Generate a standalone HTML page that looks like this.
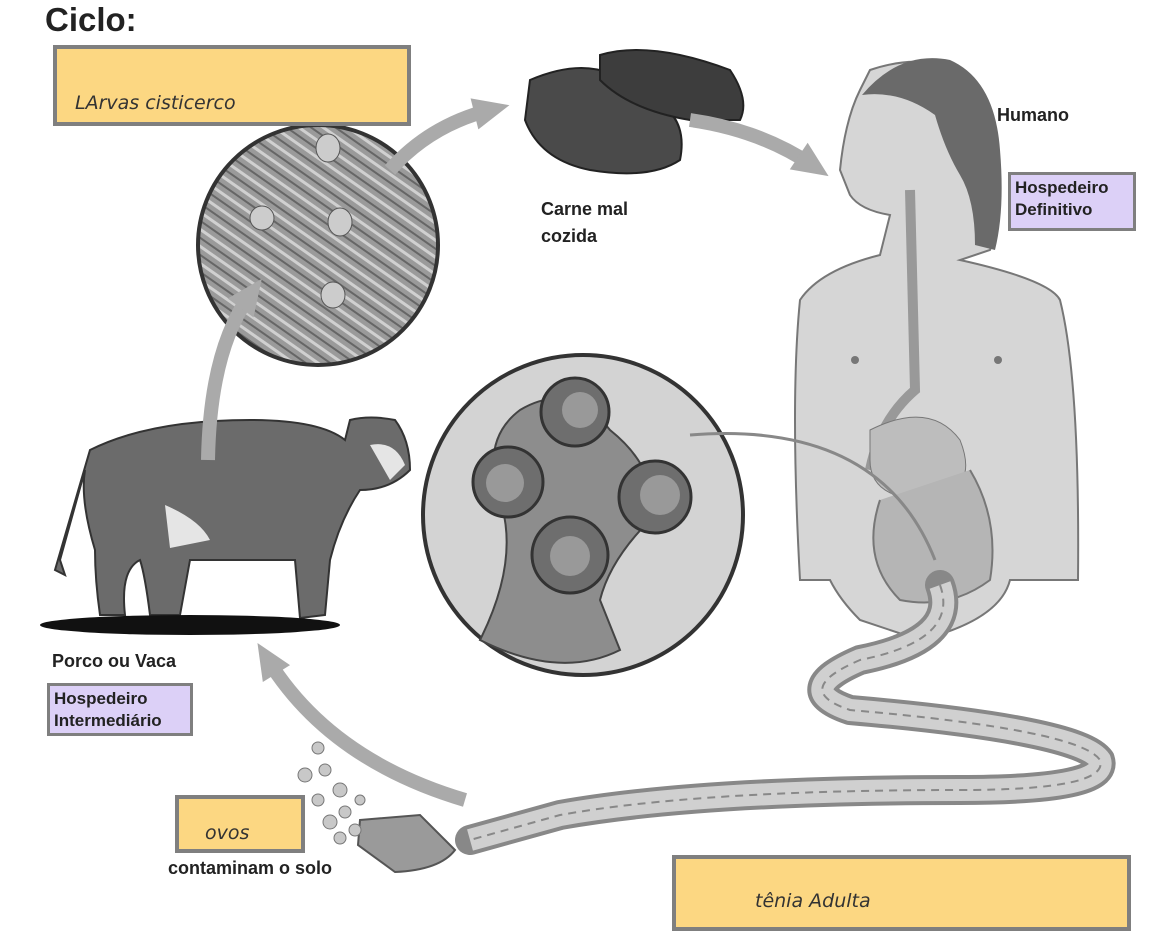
<!DOCTYPE html>
<html><head><meta charset="utf-8"><style>
html,body{margin:0;padding:0;background:#fff;}
body{width:1170px;height:942px;position:relative;overflow:hidden;font-family:"Liberation Sans",sans-serif;}
.t{position:absolute;font-weight:bold;color:#222;font-size:18px;line-height:27px;}
.yb{position:absolute;background:#fcd782;border:4px solid #7f7f7f;box-sizing:border-box;}
.pb{position:absolute;background:#dcd0f7;border:3px solid #7f7f7f;box-sizing:border-box;font-weight:bold;font-size:17px;line-height:22px;padding:2px 4px;color:#222;}
.hw{position:absolute;font-family:"DejaVu Sans",sans-serif;font-size:19px;color:#333;font-style:italic;}
</style></head><body>
<svg width="1170" height="942" style="position:absolute;left:0;top:0">
<defs>
<marker id="ah" markerUnits="userSpaceOnUse" markerWidth="40" markerHeight="40" refX="20" refY="20" orient="auto"><path d="M4,4L40,20L4,36z" fill="#aaa"/></marker>
<pattern id="fib" width="14" height="14" patternUnits="userSpaceOnUse" patternTransform="rotate(35)"><rect width="14" height="14" fill="#9a9a9a"/><line x1="0" y1="3" x2="14" y2="3" stroke="#d0d0d0" stroke-width="3"/><line x1="0" y1="10" x2="14" y2="10" stroke="#666" stroke-width="2"/></pattern>
</defs>
<!-- human -->
<path d="M870,70 Q960,40 990,120 Q1010,200 990,250 L960,260 Q1050,280 1060,300 Q1080,380 1078,580 L1010,580 Q1000,620 920,640 L860,620 Q840,600 830,580 L800,580 Q790,400 800,300 Q820,270 880,255 L890,215 Q860,210 850,195 L840,170 Q845,120 860,90 Z" fill="#d6d6d6" stroke="#777" stroke-width="2"/>
<path d="M862,95 Q900,50 950,60 Q995,80 1000,150 Q1005,210 995,250 L975,245 Q975,200 960,175 Q945,150 935,115 Q900,90 862,95Z" fill="#6a6a6a"/>
<path d="M910,190 L915,390 Q880,420 870,470" stroke="#999" stroke-width="10" fill="none"/>
<path d="M870,430 Q930,400 960,440 Q980,490 930,500 Q870,500 870,460Z" fill="#bdbdbd" stroke="#777"/>
<path d="M880,500 Q860,560 900,600 Q950,610 990,580 Q1000,520 970,470" fill="#b5b5b5" stroke="#777" stroke-width="2"/>
<circle cx="855" cy="360" r="4" fill="#777"/><circle cx="998" cy="360" r="4" fill="#777"/>
<!-- worm -->
<path d="M940,585 Q960,640 860,660 Q790,690 850,710 Q1080,730 1100,760 Q1110,790 960,790 Q700,790 560,815 L470,840" stroke="#888" stroke-width="30" fill="none" stroke-linecap="round"/>
<path d="M940,585 Q960,640 860,660 Q790,690 850,710 Q1080,730 1100,760 Q1110,790 960,790 Q700,790 560,815 L470,840" stroke="#d0d0d0" stroke-width="22" fill="none"/>
<path d="M940,585 Q960,640 860,660 Q790,690 850,710 Q1080,730 1100,760 Q1110,790 960,790 Q700,790 560,815 L470,840" stroke="#888" stroke-width="2" fill="none" stroke-dasharray="8 6"/>
<path d="M360,820 L420,815 L455,850 Q440,870 395,872 L358,845Z" fill="#9a9a9a" stroke="#555" stroke-width="2"/>
<!-- eggs -->
<g fill="#c8c8c8" stroke="#777">
<circle cx="318" cy="748" r="6"/><circle cx="305" cy="775" r="7"/><circle cx="325" cy="770" r="6"/><circle cx="340" cy="790" r="7"/><circle cx="318" cy="800" r="6"/><circle cx="345" cy="812" r="6"/><circle cx="330" cy="822" r="7"/><circle cx="355" cy="830" r="6"/><circle cx="340" cy="838" r="6"/><circle cx="360" cy="800" r="5"/></g>
<!-- circle 1 -->
<circle cx="318" cy="245" r="120" fill="url(#fib)" stroke="#333" stroke-width="4"/>
<g fill="#ccc" stroke="#555"><ellipse cx="328" cy="148" rx="12" ry="14"/><ellipse cx="262" cy="218" rx="12" ry="12"/><ellipse cx="340" cy="222" rx="12" ry="14"/><ellipse cx="333" cy="295" rx="12" ry="13"/></g>
<!-- circle 2 -->
<circle cx="583" cy="515" r="160" fill="#d3d3d3" stroke="#333" stroke-width="4"/>
<path d="M480,640 Q520,560 500,500 Q480,440 520,410 Q570,380 610,430 Q660,470 650,520 Q610,560 600,600 L620,650 Q560,680 480,640Z" fill="#8d8d8d" stroke="#444" stroke-width="2"/>
<g fill="#6e6e6e" stroke="#333" stroke-width="3"><circle cx="575" cy="412" r="34"/><circle cx="508" cy="482" r="35"/><circle cx="655" cy="497" r="36"/><circle cx="570" cy="555" r="38"/></g>
<g fill="#999"><circle cx="580" cy="410" r="18"/><circle cx="505" cy="483" r="19"/><circle cx="660" cy="495" r="20"/><circle cx="570" cy="556" r="20"/></g>
<path d="M690,435 Q880,420 935,560" stroke="#888" stroke-width="3" fill="none"/>
<!-- meat -->
<path d="M530,80 Q600,50 640,95 Q690,110 680,160 Q650,180 590,170 Q540,160 525,120Z" fill="#4a4a4a" stroke="#222" stroke-width="2"/>
<path d="M600,55 Q650,40 730,70 Q750,100 740,120 L690,120 Q630,110 600,80Z" fill="#3d3d3d" stroke="#222" stroke-width="2"/>
<!-- cow -->
<path d="M90,450 Q150,420 250,420 Q320,420 345,440 L350,420 Q370,415 395,420 Q410,440 410,470 Q390,490 360,490 Q340,520 330,560 L325,615 L300,618 L295,560 L190,560 L180,615 L150,615 Q145,575 140,560 Q120,570 125,615 L100,615 Q95,580 95,550 Q80,500 85,470 L60,560 L65,575 L55,570 Z" fill="#6b6b6b" stroke="#333" stroke-width="2"/>
<path d="M165,505 Q200,520 210,540 L170,548Z M370,445 Q395,440 405,465 L390,480Z" fill="#e5e5e5"/>
<ellipse cx="190" cy="625" rx="150" ry="10" fill="#111"/>
<!-- arrows -->
<g fill="none" stroke="#aaa" stroke-width="14">
<path d="M390,170 Q430,125 490,110" marker-end="url(#ah)"/>
<path d="M690,120 Q760,130 812,165" marker-end="url(#ah)"/>
<path d="M208,460 Q210,350 250,295" marker-end="url(#ah)"/>
<path d="M465,800 Q330,760 268,660" marker-end="url(#ah)"/>
</g>
</svg>
<div class="t" style="left:45px;top:0;font-size:33px;line-height:40px;">Ciclo:</div>
<div class="yb" style="left:53px;top:45px;width:358px;height:81px;"></div>
<div class="hw" style="left:75px;top:92px;">LArvas cisticerco</div>
<div class="t" style="left:541px;top:196px;">Carne mal<br>cozida</div>
<div class="t" style="left:997px;top:102px;">Humano</div>
<div class="pb" style="left:1008px;top:172px;width:128px;height:59px;">Hospedeiro<br>Definitivo</div>
<div class="t" style="left:52px;top:648px;">Porco ou Vaca</div>
<div class="pb" style="left:47px;top:683px;width:146px;height:53px;">Hospedeiro<br>Intermediário</div>
<div class="yb" style="left:175px;top:795px;width:130px;height:58px;"></div>
<div class="hw" style="left:205px;top:822px;">ovos</div>
<div class="t" style="left:168px;top:855px;">contaminam o solo</div>
<div class="yb" style="left:672px;top:855px;width:459px;height:76px;"></div>
<div class="hw" style="left:755px;top:890px;">tênia Adulta</div>
</body></html>
